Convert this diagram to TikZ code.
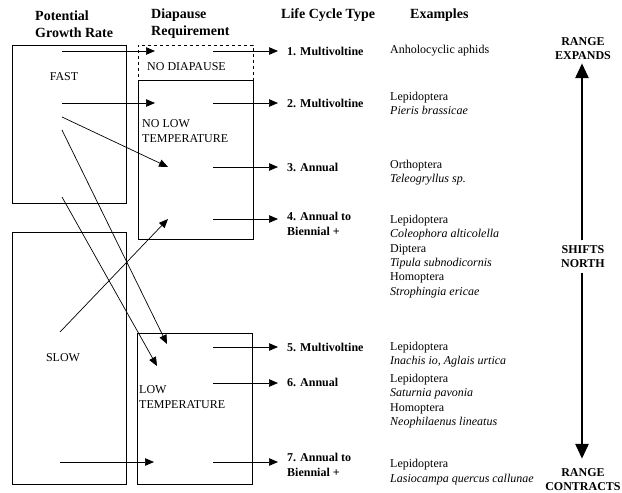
\documentclass[tikz,border=0pt]{standalone}
\usepackage{fontspec}
\setmainfont{Liberation Serif}
\usetikzlibrary{arrows.meta}
\begin{document}
\begin{tikzpicture}[x=1pt,y=-1pt,
  hdr/.style={font=\fontsize{14}{17}\selectfont\bfseries, align=left, inner sep=0pt, anchor=west},
  body/.style={font=\fontsize{12}{14.3}\selectfont, align=left, inner sep=0pt, anchor=west},
  lct/.style={font=\fontsize{12}{15}\selectfont\bfseries, align=left, inner sep=0pt, anchor=west},
  rng/.style={font=\fontsize{12}{14}\selectfont\bfseries, align=center, inner sep=0pt},
  boxshape/.style={draw, line width=1pt, inner sep=0pt},
  arr/.style={line width=0.7pt, -{Triangle[length=9pt,width=7.5pt]}},
  big/.style={line width=2.8pt, -{Triangle[length=15pt,width=13pt]}}]
\useasboundingbox (0,0) rectangle (622,493);

% headers
\node[hdr] (hpot) at (35,24) {Potential\\Growth Rate};
\node[hdr] (hdia) at (151,24) {Diapause\\Requirement};
\node[hdr] (hlct) at (281,15) {Life Cycle Type};
\node[hdr] (hex) at (410,15) {Examples};

% boxes
\node[boxshape, minimum width=114pt, minimum height=158pt] (fast) at (69,124) {};
\node[boxshape, dashed, minimum width=115pt, minimum height=35pt] (nodia) at (195.5,62.5) {};
\node[boxshape, minimum width=115pt, minimum height=159pt] (nlt) at (195.5,159.5) {};
\node[boxshape, minimum width=114pt, minimum height=252pt] (slow) at (69,358) {};
\node[boxshape, minimum width=115pt, minimum height=151pt] (lt) at (194.5,408.5) {};

% box labels
\node[body, anchor=center] (tfast) at (64,77) {FAST};
\node[body] (tnodia) at (147,67) {NO DIAPAUSE};
\node[body] (tnlt) at (142,131) {NO LOW\\TEMPERATURE};
\node[body, anchor=center] (tslow) at (63,358) {SLOW};
\node[body] (tlt) at (139,397) {LOW\\TEMPERATURE};

% coordinates
\coordinate (f1) at (62,51);
\coordinate (f2) at (62,103);
\coordinate (f3) at (62,117);
\coordinate (f4) at (62,130);
\coordinate (f5) at (62,197);
\coordinate (s1) at (60,332);
\coordinate (s2) at (60,462);
\coordinate (d1) at (155,51);
\coordinate (d2) at (155,103);
\coordinate (d3) at (168,167);
\coordinate (d4) at (168,219);
\coordinate (d5) at (167,344);
\coordinate (d6) at (157,366);
\coordinate (d7) at (154,462);
\coordinate (r1) at (213,51);
\coordinate (r2) at (213,103);
\coordinate (r3) at (213,167);
\coordinate (r4) at (213,219);
\coordinate (r5) at (213,347);
\coordinate (r6) at (213,383);
\coordinate (r7) at (213,462);

% life cycle labels
\node[lct] (l1) at (287,51) {1. Multivoltine};
\node[lct] (l2) at (287,103) {2. Multivoltine};
\node[lct] (l3) at (287,167) {3. Annual};
\node[lct] (l4) at (287,223.5) {4. Annual to\\Biennial +};
\node[lct] (l5) at (287,347) {5. Multivoltine};
\node[lct] (l6) at (287,382) {6. Annual};
\node[lct] (l7) at (287,465) {7. Annual to\\Biennial +};

% examples
\node[body] (e1) at (390,51) {Anholocyclic aphids};
\node[body] (e2) at (390,103.5) {Lepidoptera\\\textit{Pieris brassicae}};
\node[body] (e3) at (390,172.5) {Orthoptera\\\textit{Teleogryllus sp.}};
\node[body] (e4) at (390,256.5) {Lepidoptera\\\textit{Coleophora alticolella}\\Diptera\\\textit{Tipula subnodicornis}\\Homoptera\\\textit{Strophingia ericae}};
\node[body] (e5) at (390,354.5) {Lepidoptera\\\textit{Inachis io, Aglais urtica}};
\node[body] (e6) at (390,401) {Lepidoptera\\\textit{Saturnia pavonia}\\Homoptera\\\textit{Neophilaenus lineatus}};
\node[body] (e7) at (390,472) {Lepidoptera\\\textit{Lasiocampa quercus callunae}};

% range column
\node[rng] (rexp) at (583,49) {RANGE\\EXPANDS};
\node[rng] (shn) at (583,256.5) {SHIFTS\\NORTH};
\node[rng] (rcon) at (583,480) {RANGE\\CONTRACTS};

% arrows left
\draw[arr] (f1) -- (d1);
\draw[arr] (f2) -- (d2);
\draw[arr] (f3) -- (d3);
\draw[arr] (s1) -- (d4);
\draw[arr] (f4) -- (d5);
\draw[arr] (f5) -- (d6);
\draw[arr] (s2) -- (d7);

% arrows right
\draw[arr, shorten >=9pt] (r1) -- (r1 -| l1.west);
\draw[arr, shorten >=9pt] (r2) -- (r2 -| l2.west);
\draw[arr, shorten >=9pt] (r3) -- (r3 -| l3.west);
\draw[arr, shorten >=9pt] (r4) -- (r4 -| l4.west);
\draw[arr, shorten >=9pt] (r5) -- (r5 -| l5.west);
\draw[arr, shorten >=9pt] (r6) -- (r6 -| l6.west);
\draw[arr, shorten >=9pt] (r7) -- (r7 -| l7.west);

% big arrows
\draw[big, shorten <=5pt, shorten >=3pt] ([xshift=-1pt]shn.north) -- ([xshift=-1pt]rexp.south);
\draw[big, shorten <=5pt, shorten >=10pt] ([xshift=-1pt]shn.south) -- ([xshift=-1pt]rcon.north);
\end{tikzpicture}
\end{document}
